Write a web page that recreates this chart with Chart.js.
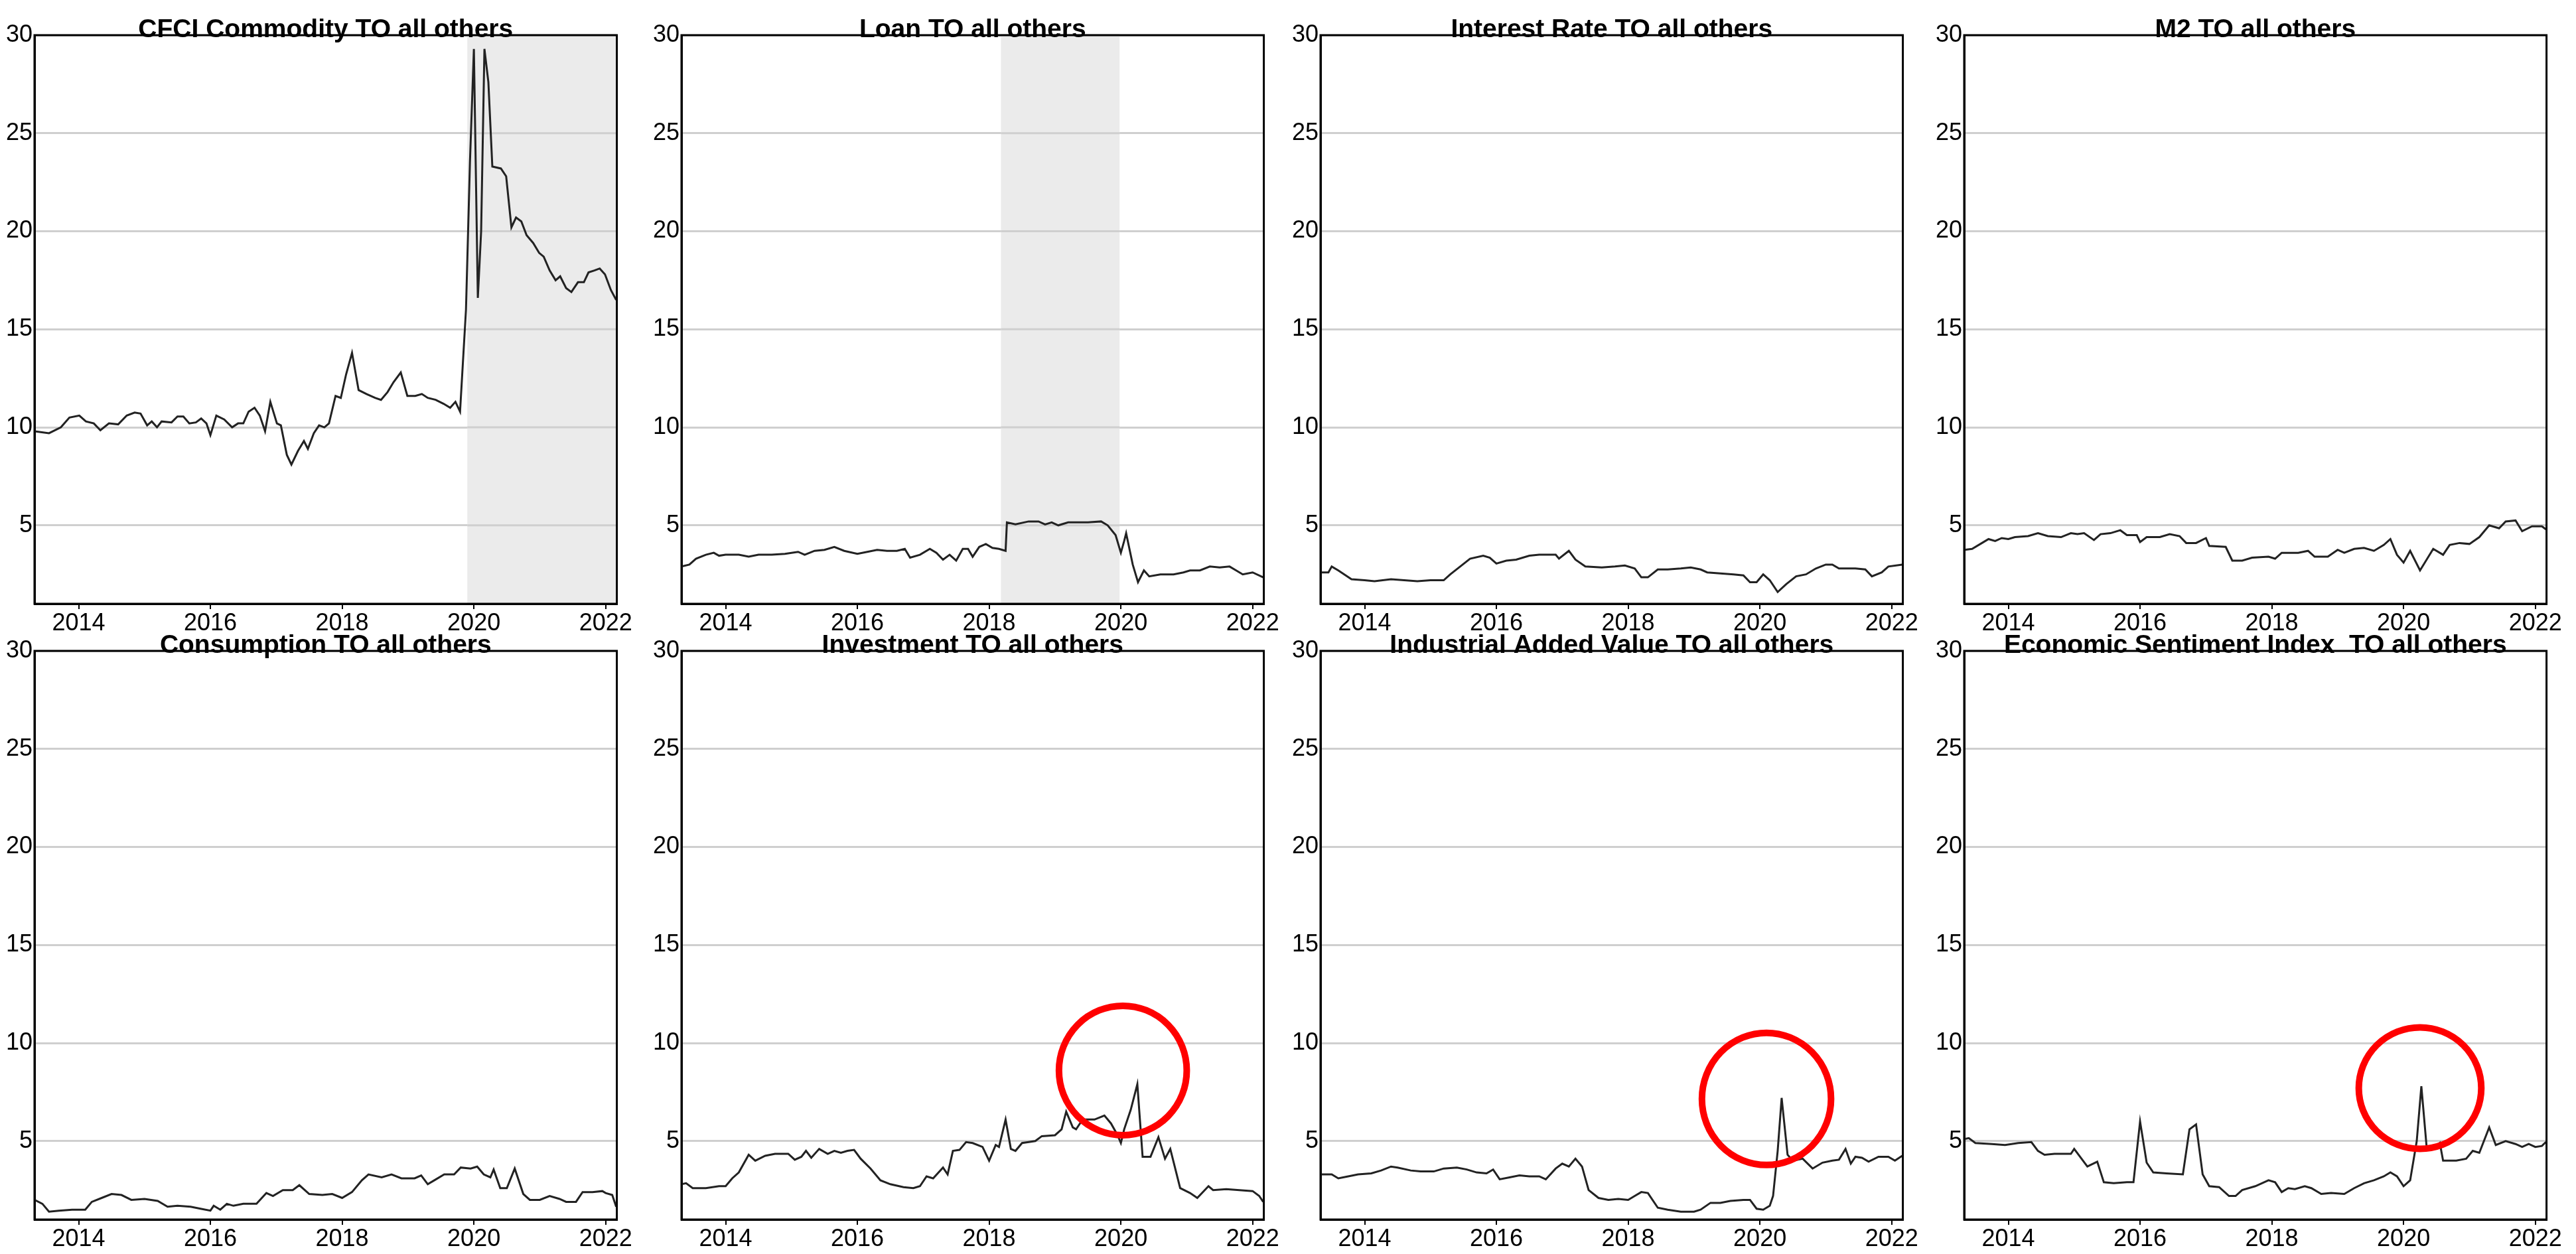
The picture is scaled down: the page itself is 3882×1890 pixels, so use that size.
<!DOCTYPE html>
<html>
<head>
<meta charset="utf-8">
<script src="https://cdn.jsdelivr.net/npm/chart.js@4/dist/chart.umd.min.js"></script>
<style>
  html, body { margin: 0; padding: 0; background: #fff; }
  body { width: 3882px; height: 1890px; position: relative; overflow: hidden; }
  .panel { position: absolute; }
</style>
</head>
<body>
<script>
// year ticks and y ticks shared by all panels
const xTicks = [2014, 2016, 2018, 2020, 2022]
const yTicks = [5, 10, 15, 20, 25, 30]
const xRange = [2013.33, 2022.17]
const yRange = [1, 30]

const titles = [
  'CFCI Commodity TO all others', 'Loan TO all others', 'Interest Rate TO all others', 'M2 TO all others',
  'Consumption TO all others', 'Investment TO all others', 'Industrial Added Value TO all others',
  'Economic Sentiment Index  TO all others',
]

// [year, value] pairs
const cfci = [[2013.33,9.8],[2013.55,9.7],[2013.73,10.0],[2013.86,10.5],[2014.01,10.6],[2014.11,10.3],[2014.23,10.2],[2014.33,9.85],[2014.46,10.2],[2014.6,10.15],[2014.73,10.6],[2014.85,10.75],[2014.94,10.7],[2015.04,10.1],[2015.11,10.3],[2015.19,10.0],[2015.26,10.3],[2015.41,10.25],[2015.5,10.55],[2015.59,10.55],[2015.68,10.2],[2015.78,10.25],[2015.86,10.45],[2015.94,10.2],[2016.0,9.6],[2016.09,10.6],[2016.21,10.4],[2016.33,10.0],[2016.42,10.2],[2016.5,10.2],[2016.58,10.8],[2016.67,11.0],[2016.75,10.6],[2016.83,9.8],[2016.91,11.3],[2017.01,10.2],[2017.07,10.1],[2017.16,8.6],[2017.23,8.1],[2017.33,8.8],[2017.42,9.3],[2017.48,8.9],[2017.57,9.7],[2017.65,10.1],[2017.73,10.0],[2017.8,10.2],[2017.9,11.6],[2017.98,11.5],[2018.06,12.7],[2018.15,13.8],[2018.25,11.9],[2018.37,11.7],[2018.5,11.5],[2018.59,11.4],[2018.69,11.8],[2018.78,12.3],[2018.89,12.8],[2018.99,11.6],[2019.11,11.6],[2019.21,11.7],[2019.3,11.5],[2019.42,11.4],[2019.54,11.2],[2019.64,11.0],[2019.72,11.3],[2019.79,10.8],[2019.88,16],[2019.94,23.5],[2020.0,29.3],[2020.06,16.6],[2020.11,20],[2020.16,29.3],[2020.22,27.6],[2020.28,23.3],[2020.41,23.2],[2020.49,22.8],[2020.57,20.2],[2020.64,20.7],[2020.72,20.5],[2020.8,19.8],[2020.9,19.4],[2020.99,18.9],[2021.06,18.7],[2021.15,18.0],[2021.24,17.5],[2021.31,17.7],[2021.4,17.1],[2021.48,16.9],[2021.58,17.4],[2021.67,17.4],[2021.74,17.9],[2021.83,18.0],[2021.91,18.1],[2021.99,17.8],[2022.08,17.0],[2022.16,16.5]]
const loan = [[2013.33,2.9],[2013.45,3.0],[2013.55,3.3],[2013.7,3.5],[2013.82,3.6],[2013.9,3.45],[2014.0,3.5],[2014.2,3.5],[2014.35,3.4],[2014.5,3.5],[2014.7,3.5],[2014.9,3.55],[2015.1,3.65],[2015.2,3.5],[2015.35,3.7],[2015.5,3.75],[2015.65,3.9],[2015.8,3.7],[2016.0,3.55],[2016.15,3.65],[2016.3,3.75],[2016.45,3.7],[2016.6,3.7],[2016.72,3.8],[2016.8,3.35],[2016.95,3.5],[2017.1,3.8],[2017.2,3.6],[2017.3,3.25],[2017.4,3.5],[2017.5,3.2],[2017.6,3.8],[2017.68,3.8],[2017.75,3.4],[2017.85,3.9],[2017.95,4.05],[2018.05,3.85],[2018.15,3.8],[2018.25,3.7],[2018.27,5.15],[2018.4,5.05],[2018.6,5.2],[2018.75,5.2],[2018.85,5.05],[2018.95,5.15],[2019.05,5.0],[2019.2,5.15],[2019.5,5.15],[2019.7,5.2],[2019.8,5.0],[2019.92,4.5],[2020.0,3.6],[2020.05,4.2],[2020.08,4.6],[2020.18,3.0],[2020.26,2.1],[2020.35,2.7],[2020.43,2.4],[2020.6,2.5],[2020.8,2.5],[2020.95,2.6],[2021.05,2.7],[2021.2,2.7],[2021.35,2.9],[2021.5,2.85],[2021.65,2.9],[2021.75,2.7],[2021.85,2.5],[2022.0,2.6],[2022.16,2.35]]
const interestRate = [[2013.33,2.6],[2013.45,2.6],[2013.5,2.9],[2013.6,2.7],[2013.8,2.25],[2014.0,2.2],[2014.15,2.15],[2014.4,2.25],[2014.6,2.2],[2014.8,2.15],[2015.0,2.2],[2015.2,2.2],[2015.3,2.5],[2015.45,2.9],[2015.6,3.3],[2015.8,3.45],[2015.9,3.35],[2016.0,3.05],[2016.15,3.2],[2016.3,3.25],[2016.5,3.45],[2016.65,3.5],[2016.9,3.5],[2016.95,3.3],[2017.1,3.7],[2017.2,3.25],[2017.35,2.9],[2017.6,2.85],[2017.8,2.9],[2017.95,2.95],[2018.1,2.8],[2018.2,2.35],[2018.3,2.35],[2018.45,2.75],[2018.6,2.75],[2018.8,2.8],[2018.95,2.85],[2019.1,2.75],[2019.2,2.6],[2019.4,2.55],[2019.6,2.5],[2019.75,2.45],[2019.85,2.1],[2019.95,2.1],[2020.05,2.5],[2020.15,2.2],[2020.27,1.6],[2020.4,2.0],[2020.55,2.4],[2020.7,2.5],[2020.85,2.8],[2021.0,3.0],[2021.1,3.0],[2021.2,2.8],[2021.45,2.8],[2021.6,2.75],[2021.7,2.4],[2021.85,2.6],[2021.95,2.9],[2022.16,3.0]]
const m2 = [[2013.33,3.75],[2013.45,3.8],[2013.6,4.1],[2013.7,4.3],[2013.8,4.2],[2013.9,4.35],[2014.0,4.3],[2014.1,4.4],[2014.3,4.45],[2014.45,4.6],[2014.6,4.45],[2014.8,4.4],[2014.95,4.6],[2015.05,4.55],[2015.15,4.6],[2015.3,4.25],[2015.4,4.55],[2015.55,4.6],[2015.7,4.75],[2015.8,4.5],[2015.95,4.5],[2016.0,4.15],[2016.1,4.4],[2016.3,4.4],[2016.45,4.55],[2016.6,4.45],[2016.7,4.1],[2016.85,4.1],[2017.0,4.35],[2017.05,3.95],[2017.3,3.9],[2017.4,3.2],[2017.55,3.2],[2017.7,3.35],[2017.95,3.4],[2018.05,3.3],[2018.15,3.6],[2018.25,3.6],[2018.4,3.6],[2018.55,3.7],[2018.65,3.4],[2018.85,3.4],[2019.0,3.75],[2019.1,3.6],[2019.25,3.8],[2019.4,3.85],[2019.55,3.7],[2019.7,4.0],[2019.8,4.3],[2019.9,3.5],[2020.0,3.1],[2020.1,3.7],[2020.25,2.7],[2020.45,3.8],[2020.6,3.5],[2020.7,4.0],[2020.85,4.1],[2021.0,4.05],[2021.15,4.4],[2021.3,5.0],[2021.45,4.85],[2021.55,5.2],[2021.7,5.25],[2021.8,4.7],[2021.95,4.95],[2022.1,4.95],[2022.16,4.8]]
const consumption = [[2013.33,2.0],[2013.45,1.8],[2013.55,1.4],[2013.7,1.45],[2013.9,1.5],[2014.1,1.5],[2014.2,1.9],[2014.35,2.1],[2014.5,2.3],[2014.65,2.25],[2014.8,2.0],[2015.0,2.05],[2015.2,1.95],[2015.35,1.65],[2015.5,1.7],[2015.7,1.65],[2015.85,1.55],[2016.0,1.45],[2016.05,1.7],[2016.15,1.5],[2016.25,1.8],[2016.35,1.7],[2016.5,1.8],[2016.7,1.8],[2016.85,2.35],[2016.95,2.2],[2017.1,2.5],[2017.25,2.5],[2017.35,2.75],[2017.5,2.3],[2017.7,2.25],[2017.85,2.3],[2018.0,2.1],[2018.15,2.4],[2018.3,3.0],[2018.4,3.3],[2018.6,3.15],[2018.75,3.3],[2018.9,3.1],[2019.1,3.1],[2019.2,3.25],[2019.3,2.8],[2019.4,3.0],[2019.55,3.3],[2019.7,3.3],[2019.8,3.65],[2019.95,3.6],[2020.05,3.7],[2020.15,3.3],[2020.25,3.15],[2020.3,3.55],[2020.4,2.6],[2020.5,2.6],[2020.62,3.6],[2020.75,2.3],[2020.85,2.0],[2021.0,2.0],[2021.15,2.2],[2021.3,2.05],[2021.4,1.9],[2021.55,1.9],[2021.65,2.4],[2021.8,2.4],[2021.95,2.45],[2022.0,2.35],[2022.1,2.25],[2022.16,1.65]]
const investment = [[2013.33,2.8],[2013.4,2.85],[2013.5,2.6],[2013.7,2.6],[2013.9,2.7],[2014.0,2.7],[2014.1,3.1],[2014.2,3.4],[2014.35,4.3],[2014.45,4.0],[2014.6,4.25],[2014.75,4.35],[2014.95,4.35],[2015.05,4.05],[2015.15,4.2],[2015.22,4.5],[2015.3,4.15],[2015.42,4.6],[2015.55,4.35],[2015.65,4.5],[2015.75,4.4],[2015.85,4.5],[2015.95,4.55],[2016.05,4.1],[2016.2,3.6],[2016.35,3.0],[2016.5,2.8],[2016.7,2.65],[2016.85,2.6],[2016.95,2.7],[2017.05,3.2],[2017.15,3.1],[2017.3,3.65],[2017.37,3.3],[2017.45,4.5],[2017.55,4.55],[2017.65,4.95],[2017.75,4.9],[2017.9,4.7],[2018.0,4.0],[2018.1,4.8],[2018.15,4.7],[2018.25,6.1],[2018.33,4.6],[2018.4,4.5],[2018.5,4.9],[2018.7,5.0],[2018.8,5.25],[2019.0,5.3],[2019.1,5.6],[2019.17,6.5],[2019.27,5.7],[2019.32,5.6],[2019.42,6.1],[2019.6,6.1],[2019.75,6.3],[2019.85,5.9],[2019.95,5.3],[2020.0,4.9],[2020.05,5.6],[2020.15,6.6],[2020.25,7.9],[2020.33,4.2],[2020.45,4.2],[2020.57,5.2],[2020.67,4.1],[2020.75,4.6],[2020.9,2.6],[2021.05,2.35],[2021.16,2.1],[2021.33,2.7],[2021.4,2.5],[2021.6,2.55],[2021.8,2.5],[2022.0,2.45],[2022.1,2.2],[2022.16,1.9]]
const industrial = [[2013.33,3.3],[2013.5,3.3],[2013.6,3.1],[2013.75,3.2],[2013.9,3.3],[2014.1,3.35],[2014.25,3.5],[2014.4,3.7],[2014.5,3.65],[2014.7,3.5],[2014.85,3.45],[2015.05,3.45],[2015.2,3.6],[2015.4,3.65],[2015.55,3.55],[2015.7,3.4],[2015.85,3.35],[2015.95,3.55],[2016.05,3.05],[2016.2,3.15],[2016.35,3.25],[2016.5,3.2],[2016.65,3.2],[2016.75,3.05],[2016.9,3.6],[2017.0,3.85],[2017.1,3.7],[2017.2,4.1],[2017.3,3.7],[2017.4,2.5],[2017.55,2.1],[2017.7,2.0],[2017.85,2.05],[2018.0,2.0],[2018.1,2.2],[2018.2,2.4],[2018.3,2.35],[2018.45,1.6],[2018.6,1.5],[2018.8,1.4],[2019.0,1.4],[2019.1,1.5],[2019.25,1.85],[2019.4,1.85],[2019.55,1.95],[2019.75,2.0],[2019.85,2.0],[2019.95,1.55],[2020.05,1.5],[2020.15,1.7],[2020.2,2.2],[2020.27,4.5],[2020.33,7.2],[2020.42,4.3],[2020.5,4.0],[2020.65,4.1],[2020.8,3.6],[2020.95,3.9],[2021.1,4.0],[2021.2,4.05],[2021.3,4.6],[2021.38,3.85],[2021.45,4.2],[2021.55,4.15],[2021.65,3.95],[2021.8,4.2],[2021.95,4.2],[2022.05,4.0],[2022.16,4.25]]
const sentiment = [[2013.33,5.1],[2013.4,5.15],[2013.5,4.9],[2013.75,4.85],[2013.95,4.8],[2014.15,4.9],[2014.35,4.95],[2014.45,4.5],[2014.55,4.3],[2014.7,4.35],[2014.95,4.35],[2015.0,4.6],[2015.2,3.7],[2015.35,3.95],[2015.45,2.9],[2015.6,2.85],[2015.8,2.9],[2015.9,2.9],[2016.0,6.0],[2016.1,3.9],[2016.2,3.4],[2016.4,3.35],[2016.65,3.3],[2016.75,5.6],[2016.85,5.85],[2016.95,3.3],[2017.05,2.7],[2017.2,2.65],[2017.35,2.2],[2017.45,2.2],[2017.55,2.5],[2017.75,2.7],[2017.95,3.0],[2018.05,2.9],[2018.15,2.4],[2018.25,2.6],[2018.35,2.55],[2018.5,2.7],[2018.6,2.6],[2018.75,2.3],[2018.9,2.35],[2019.1,2.3],[2019.25,2.6],[2019.4,2.85],[2019.55,3.0],[2019.7,3.2],[2019.8,3.4],[2019.9,3.2],[2020.0,2.7],[2020.1,3.0],[2020.2,5.0],[2020.27,7.8],[2020.35,4.7],[2020.45,4.6],[2020.55,4.9],[2020.6,4.0],[2020.8,4.0],[2020.95,4.1],[2021.05,4.5],[2021.15,4.4],[2021.3,5.7],[2021.4,4.8],[2021.55,5.0],[2021.7,4.85],[2021.8,4.7],[2021.9,4.85],[2022.0,4.7],[2022.1,4.75],[2022.16,4.95]]

const series = [cfci, loan, interestRate, m2, consumption, investment, industrial, sentiment]

// shaded periods [from, to] per panel
const shades = [[2019.9, 2022.17], [2018.18, 2019.98], null, null, null, null, null, null]
// red circles [centerYear, centerValue, radiusYears, radiusValue]
const circles = [null, null, null, null, null, [2020.03, 8.6, 0.97, 3.3], [2020.1, 7.15, 0.98, 3.37], [2020.25, 7.7, 0.93, 3.1]]

const colLeft = [52, 1027, 1990, 2960]
const rowTop = [53, 981]
const frameW = 887, frameH = 857
const padL = 62, padT = 56, padR = 14, padB = 50

const panelPlugin = {
  id: 'panelDecor',
  beforeDatasetsDraw(chart, args, opts) {
    const { ctx, chartArea: a, scales: { x, y } } = chart
    if (opts.shade) {
      ctx.save()
      ctx.fillStyle = '#ebebeb'
      const x0 = x.getPixelForValue(opts.shade[0]), x1 = x.getPixelForValue(opts.shade[1])
      ctx.fillRect(x0, a.top, Math.min(x1, a.right) - x0, a.bottom - a.top)
      // redraw gray grid lines over the shade
      ctx.strokeStyle = '#cfcfcf'
      ctx.lineWidth = 3
      yTicks.forEach(v => {
        const py = y.getPixelForValue(v)
        ctx.beginPath(); ctx.moveTo(x0, py); ctx.lineTo(Math.min(x1, a.right), py); ctx.stroke()
      })
      ctx.restore()
    }
  },
  afterDraw(chart, args, opts) {
    const { ctx, chartArea: a, scales: { x, y } } = chart
    ctx.save()
    ctx.strokeStyle = '#000'
    ctx.lineWidth = 3
    ctx.strokeRect(a.left, a.top, a.right - a.left, a.bottom - a.top)
    if (opts.circle) {
      const [cx, cy, rx, ry] = opts.circle
      const px = x.getPixelForValue(cx), py = y.getPixelForValue(cy)
      const rpx = Math.abs(x.getPixelForValue(cx + rx) - px)
      const rpy = Math.abs(y.getPixelForValue(cy + ry) - py)
      ctx.strokeStyle = '#ff0000'
      ctx.lineWidth = 10
      ctx.beginPath()
      ctx.ellipse(px, py, rpx, rpy, 0, 0, Math.PI * 2)
      ctx.stroke()
    }
    ctx.fillStyle = '#000'
    ctx.font = 'bold 39px "Liberation Sans", Arial, sans-serif'
    ctx.textAlign = 'center'
    ctx.textBaseline = 'alphabetic'
    ctx.fillText(opts.title, (a.left + a.right) / 2, a.top + 3)
    ctx.restore()
  },
}

series.forEach((data, i) => {
  const col = i % 4, row = Math.floor(i / 4)
  const div = document.createElement('div')
  div.className = 'panel'
  const w = frameW + padL + padR, h = frameH + padT + padB
  div.style.left = (colLeft[col] - padL) + 'px'
  div.style.top = (rowTop[row] - padT) + 'px'
  div.style.width = w + 'px'
  div.style.height = h + 'px'
  const canvas = document.createElement('canvas')
  div.appendChild(canvas)
  document.body.appendChild(div)

  new Chart(canvas, {
    type: 'line',
    data: {
      datasets: [{
        data: data.map(([x, y]) => ({ x, y })),
        borderColor: '#222',
        borderWidth: 3,
        pointRadius: 0,
        tension: 0,
      }],
    },
    options: {
      responsive: true,
      maintainAspectRatio: false,
      animation: false,
      devicePixelRatio: 1,
      layout: { padding: { top: padT, right: padR, left: 0, bottom: 0 } },
      plugins: {
        legend: { display: false },
        tooltip: { enabled: false },
        panelDecor: { title: titles[i], shade: shades[i], circle: circles[i] },
      },
      scales: {
        x: {
          type: 'linear',
          min: xRange[0],
          max: xRange[1],
          afterBuildTicks: (s) => { s.ticks = xTicks.map(v => ({ value: v })) },
          afterFit: (s) => { s.height = padB },
          grid: { drawOnChartArea: false, drawTicks: true, tickLength: 8, color: '#000', lineWidth: 2 },
          border: { display: true, color: '#000', width: 3 },
          ticks: { color: '#000', font: { size: 36, family: 'Liberation Sans' }, padding: 0, maxRotation: 0, callback: v => String(v) },
        },
        y: {
          min: yRange[0],
          max: yRange[1],
          afterBuildTicks: (s) => { s.ticks = yTicks.map(v => ({ value: v })) },
          afterFit: (s) => { s.width = padL },
          grid: { color: '#cfcfcf', lineWidth: 3, drawTicks: false },
          border: { display: true, color: '#000', width: 3 },
          ticks: { color: '#000', font: { size: 36, family: 'Liberation Sans' }, padding: 3 },
        },
      },
    },
    plugins: [panelPlugin],
  })
})
</script>
</body>
</html>
